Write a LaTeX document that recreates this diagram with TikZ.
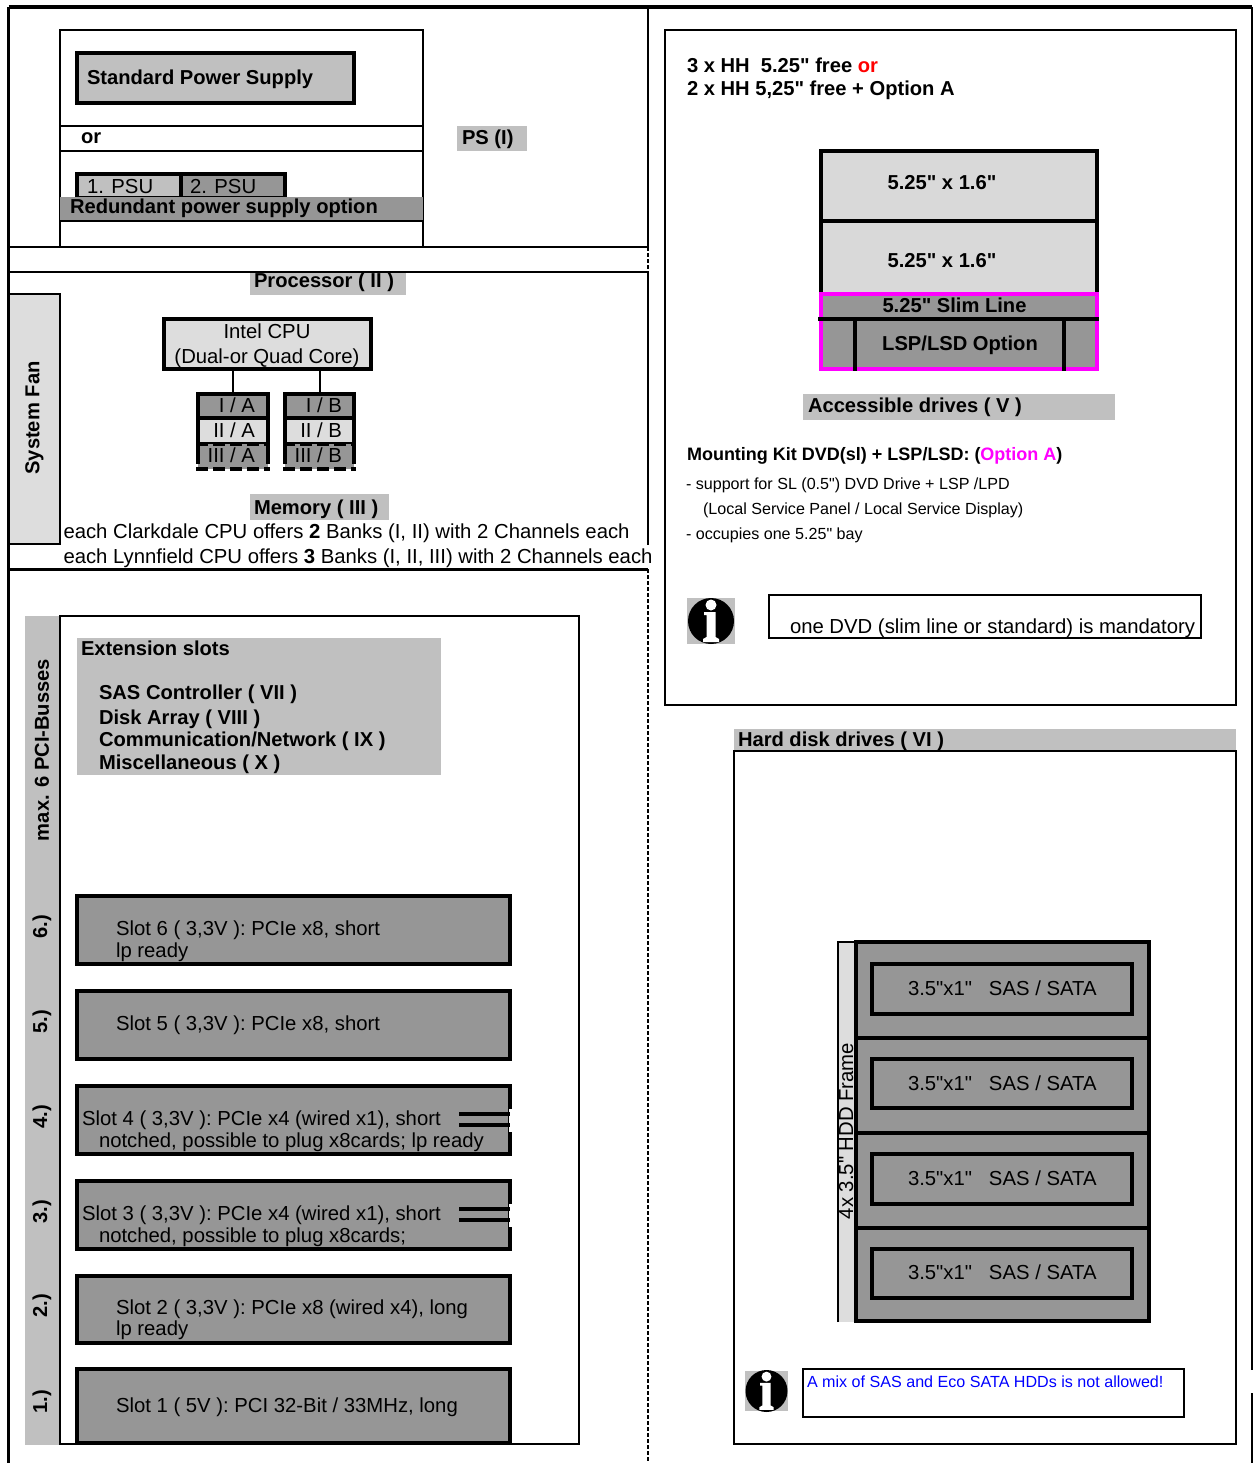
\documentclass[tikz,border=0pt]{standalone}
\usepackage{fontspec}
\setmainfont{Liberation Sans}[Ligatures=TeXOff]
\definecolor{gA}{HTML}{C0C0C0}
\definecolor{gB}{HTML}{969696}
\definecolor{gC}{HTML}{DDDDDD}
\definecolor{gD}{HTML}{D9D9D9}
\definecolor{mag}{HTML}{FF00FF}
\tikzset{
 rb/.style={rectangle,inner sep=0pt,outer sep=0pt},
 thin line/.style={draw=black,line width=2pt},
 thick line/.style={draw=black,line width=4pt},
 tx/.style={anchor=base west,inner sep=0pt,outer sep=0pt,font=\fontsize{20.3}{24}\selectfont},
 bf/.style={tx,font=\fontsize{20.15}{24}\selectfont\bfseries},
 sm/.style={tx,font=\fontsize{16.1}{20}\selectfont},
 rot/.style={anchor=center,rotate=90,inner sep=0pt,font=\fontsize{20.15}{24}\selectfont\bfseries},
 slot/.style={rb,thick line,fill=gB},
 hdd/.style={rb,thick line,fill=gB},
 band/.style={rb,fill=gA},
 bandB/.style={rb,fill=gB},
 frame/.style={draw=black,line width=3pt},
 wire/.style={draw=black,line width=2pt},
 hdash/.style={draw=black,line width=4pt,dash pattern=on 12pt off 5pt},
 vdash/.style={draw=black,line width=2pt,dash pattern=on 4pt off 2pt}
}
\newcommand{\rbox}[6]{\node[#6,minimum width={(#4-#2)*1pt},minimum height={(#5-#3)*1pt}] (#1) at ({(#2+#4)/2},{(#3+#5)/2}) {};}
\newcommand{\infoicon}[7]{%
 \node[band,minimum width={#4*1pt},minimum height={#5*1pt}] (#1bg) at (#2,#3) {};
 \node[circle,fill=black,inner sep=0pt,minimum size={#6*2pt}] (#1c) at (#2,#3) {};
 \begin{scope}[shift={(#2,#3)},x=#7pt,y=-#7pt]
  \fill[white] (0,-16) circle (5.5);
  \fill[white] (-7,-9) -- (4.5,-9) -- (4.5,16) -- (8,18) -- (8,21) -- (-8,21) -- (-8,18) -- (-4.5,16) -- (-4.5,-6) -- (-7,-6) -- cycle;
 \end{scope}}
\begin{document}
\begin{tikzpicture}[x=1pt,y=-1pt]
\useasboundingbox (0,0) rectangle (1253,1463);
% outer frame
\coordinate (tl) at (8.5,7); \coordinate (tr) at (1252,7);
\coordinate (bl) at (8.5,1463);
\draw[frame,line width=4pt] (tl) -- (tr);
\draw[frame] (tl) -- (bl);
\coordinate (r1) at (1252,7); \coordinate (r2) at (1252,1370);
\coordinate (r3) at (1252,1393); \coordinate (r4) at (1252,1463);
\draw[wire] (r1) -- (r2); \draw[wire] (r3) -- (r4);
% main divider
\coordinate (d1) at (648,7); \coordinate (d2) at (648,247); \coordinate (d3) at (648,272);
\coordinate (d4) at (648,545); \coordinate (d5) at (648,569); \coordinate (d6) at (648,1463);
\draw[wire] (d1) -- (d2); \draw[vdash] (d2) -- (d3); \draw[wire] (d3) -- (d4); \draw[vdash] (d5) -- (d6);
\coordinate (h1a) at (8,247); \coordinate (h1b) at (648,247);
\coordinate (h2a) at (8,272); \coordinate (h2b) at (648,272);
\coordinate (h3a) at (8,569); \coordinate (h3b) at (648,569);
\draw[frame,line width=2.4pt] (h1a) -- (h1b);
\draw[frame,line width=2.4pt] (h2a) -- (h2b);
\draw[frame] (h3a) -- (h3b);
% power supply
\coordinate (pa) at (60,30); \coordinate (pb) at (423,30); \coordinate (pc) at (60,248); \coordinate (pd) at (423,248);
\draw[wire] (pc) -- (pa) -- (pb) -- (pd);
\coordinate (p1a) at (60,126); \coordinate (p1b) at (423,126); \coordinate (p2a) at (60,151); \coordinate (p2b) at (423,151);
\draw[wire] (p1a) -- (p1b); \draw[wire] (p2a) -- (p2b);
\rbox{std}{77}{53}{354}{103}{rb,thick line,fill=gA}
\node[bf] (stdt) at (87,85) {Standard Power Supply};
\node[bf] (ort) at (81,144) {or};
\rbox{psua}{77}{174}{181}{198}{rb,thick line,fill=gA}
\rbox{psub}{181}{174}{285}{198}{rb,thick line,fill=gB}
\node[tx] (psuat) at (87,194) {1. PSU};
\node[tx] (psubt) at (190,194) {2. PSU};
\rbox{red}{60}{197}{423}{221}{bandB}
\coordinate (ra) at (60,221); \coordinate (rb) at (423,221);
\draw[wire] (ra) -- (rb);
\node[bf] (redt) at (70,214) {Redundant power supply option};
\rbox{psl}{457}{126}{527}{151}{band}
\node[bf] (pst) at (462,144.5) {PS (I)};
% processor
\rbox{proc}{250}{273}{406}{295}{band}
\node[bf] (proct) at (254,287) {Processor ( II )};
\rbox{fan}{8.5}{294}{60}{544}{rb,thin line,fill=gC}
\node[rot] (fant) at (34.5,418) {System Fan};
\rbox{cpu}{164}{319}{371}{369}{rb,thick line,fill=gC}
\node[tx,anchor=base] (cput1) at (267,338) {Intel CPU};
\node[tx,anchor=base] (cput2) at (267,363) {(Dual-or Quad Core)};
% DIMMs
\rbox{aI}{198}{394}{268}{418}{rb,thick line,fill=gB}
\rbox{bI}{285}{394}{354}{418}{rb,thick line,fill=gB}
\rbox{aII}{198}{418}{268}{444}{rb,thick line,fill=gC}
\rbox{bII}{285}{418}{354}{444}{rb,thick line,fill=gC}
\rbox{aIII}{198}{444}{268}{469}{rb,fill=gB}
\rbox{bIII}{285}{444}{354}{469}{rb,fill=gB}
\foreach \n in {aIII,bIII}{
 \draw[thick line] (\n.north west) -- ([yshift=5pt]\n.south west);
 \draw[thick line] (\n.north east) -- ([yshift=5pt]\n.south east);
 \draw[hdash] ([xshift=-2pt]\n.north west) -- ([xshift=2pt]\n.north east);
 \draw[hdash] ([xshift=-2pt]\n.south west) -- ([xshift=2pt]\n.south east);
}
\draw[wire] (cpu.south -| aI.north) -- (aI.north);
\draw[wire] (cpu.south -| bI.north) -- (bI.north);
\foreach \nm/\xx/\yy/\tt in {ta1/255/412/{I / A},ta2/255/437/{II / A},ta3/255/462/{III / A},tb1/342/412/{I / B},tb2/342/437/{II / B},tb3/342/462/{III / B}}{
 \node[tx,anchor=base east] (\nm) at (\xx,\yy) {\tt};
}
\rbox{mem}{250}{494}{389}{520}{band}
\node[bf] (memt) at (254,514) {Memory ( III )};
\node[tx] (cl) at (63.5,538) {each Clarkdale CPU offers \textbf{2} Banks (I, II) with 2 Channels each};
\node[tx] (ly) at (63.5,563) {each Lynnfield CPU offers \textbf{3} Banks (I, II, III) with 2 Channels each};
% extension
\rbox{strip}{25}{616}{60}{1445}{band}
\rbox{ext}{60}{616}{579}{1444}{rb,thin line}
\node[rot] (max) at (42,750) {max. 6 PCI-Busses};
\foreach \nm/\yy/\tt in {n6/927/6.),n5/1022/5.),n4/1117/4.),n3/1212/3.),n2/1306/2.),n1/1402/1.)}{
 \node[rot] (\nm) at (42,\yy) {\tt};
}
\rbox{extb}{77}{638}{441}{775}{band}
\node[bf] (e1) at (81,655) {Extension slots};
\node[bf] (e2) at (99,699) {SAS Controller ( VII )};
\node[bf] (e3) at (99,724) {Disk Array ( VIII )};
\node[bf] (e4) at (99,746) {Communication/Network ( IX )};
\node[bf] (e5) at (99,769) {Miscellaneous ( X )};
\rbox{s6}{77}{896}{510}{964}{slot}
\rbox{s5}{77}{991}{510}{1059}{slot}
\rbox{s4}{77}{1086}{510}{1154}{slot}
\rbox{s3}{77}{1181}{510}{1249}{slot}
\rbox{s2}{77}{1276}{510}{1343}{slot}
\rbox{s1}{77}{1369}{510}{1443}{slot}
\fill[white] (509,1109) rectangle (512.5,1132);
\fill[white] (509,1204) rectangle (512.5,1227);
\coordinate (c4a) at (459,1114); \coordinate (c4b) at (510,1114); \coordinate (c4c) at (459,1125); \coordinate (c4d) at (510,1125);
\coordinate (c3a) at (459,1209); \coordinate (c3b) at (510,1209); \coordinate (c3c) at (459,1220); \coordinate (c3d) at (510,1220);
\draw[frame,line width=3.5pt] (c4a) -- (c4b); \draw[frame,line width=3.5pt] (c4c) -- (c4d);
\draw[frame,line width=3.5pt] (c3a) -- (c3b); \draw[frame,line width=3.5pt] (c3c) -- (c3d);
\node[tx] (t6a) at (116,935) {Slot 6 ( 3,3V ): PCIe x8, short};
\node[tx] (t6b) at (116,957) {lp ready};
\node[tx] (t5a) at (116,1030) {Slot 5 ( 3,3V ): PCIe x8, short};
\node[tx] (t4a) at (82,1125) {Slot 4 ( 3,3V ): PCIe x4 (wired x1), short};
\node[tx] (t4b) at (99,1147) {notched, possible to plug x8cards; lp ready};
\node[tx] (t3a) at (82,1220) {Slot 3 ( 3,3V ): PCIe x4 (wired x1), short};
\node[tx] (t3b) at (99,1242) {notched, possible to plug x8cards;};
\node[tx] (t2a) at (116,1314) {Slot 2 ( 3,3V ): PCIe x8 (wired x4), long};
\node[tx] (t2b) at (116,1335) {lp ready};
\node[tx] (t1a) at (116,1412) {Slot 1 ( 5V ): PCI 32-Bit / 33MHz, long};
% accessible drives
\rbox{acc}{665}{30}{1236}{705}{rb,thin line}
\node[bf] (a1) at (687,73) {3 x HH\ \ 5.25" free \textcolor{red}{or}};
\node[bf] (a2) at (687,96) {2 x HH 5,25" free + Option A};
\rbox{dr1}{821}{151}{1097}{221}{rb,thick line,fill=gD}
\rbox{dr2}{821}{221}{1097}{294}{rb,thick line,fill=gD}
\rbox{slim}{821}{294}{1097}{369}{rb,fill=gB,draw=mag,line width=4pt}
\coordinate (sa) at (818,319); \coordinate (sb) at (1099,319);
\draw[thick line] (sa) -- (sb);
\coordinate (la) at (855,319); \coordinate (lb) at (855,371); \coordinate (lc) at (1063.5,319); \coordinate (ld) at (1063.5,371);
\draw[thick line] (la) -- (lb); \draw[thick line] (lc) -- (ld);
\node[bf,anchor=base] (dt1) at (942,190) {5.25" x 1.6"};
\node[bf,anchor=base] (dt2) at (942,267) {5.25" x 1.6"};
\node[bf,anchor=base] (dt3) at (954.5,312) {5.25" Slim Line};
\node[bf,anchor=base] (dt4) at (960,350) {LSP/LSD Option};
\rbox{accl}{803}{394}{1115}{420}{band}
\node[bf] (acct) at (808,412) {Accessible drives ( V )};
\node[tx,font=\fontsize{18}{22}\selectfont\bfseries] (mk) at (687,460) {Mounting Kit DVD(sl) + LSP/LSD: (\textcolor{mag}{Option A})};
\node[sm] (m1) at (686,489) {- support for SL (0.5") DVD Drive + LSP /LPD};
\node[sm] (m2) at (703,514) {(Local Service Panel / Local Service Display)};
\node[sm] (m3) at (686,539) {- occupies one 5.25" bay};
\infoicon{ia}{711}{621}{48}{46}{23}{1}
\rbox{note}{769}{595}{1201}{638}{rb,thin line}
\node[tx] (nt) at (790,633) {one DVD (slim line or standard) is mandatory};
% hard disks
\rbox{hdl}{734}{729}{1236}{751}{band}
\rbox{hd}{734}{751}{1236}{1444}{rb,thin line}
\node[bf] (hdt) at (738,746) {Hard disk drives ( VI )};
\rbox{fr}{838}{942}{855}{1322}{rb,fill=gC}
\draw[wire] (fr.south west) -- (fr.north west) -- (fr.north east);
\node[rot,font=\fontsize{20.3}{24}\selectfont] (frt) at (846,1131) {4x 3.5" HDD Frame};
\rbox{h1}{855.5}{942}{1149}{1038}{hdd}
\rbox{h2}{855.5}{1038}{1149}{1133}{hdd}
\rbox{h3}{855.5}{1133}{1149}{1228}{hdd}
\rbox{h4}{855.5}{1228}{1149}{1321}{hdd}
\rbox{i1}{872}{964}{1132}{1014}{rb,thick line}
\rbox{i2}{872}{1059}{1132}{1108}{rb,thick line}
\rbox{i3}{872}{1154}{1132}{1204}{rb,thick line}
\rbox{i4}{872}{1249}{1132}{1298}{rb,thick line}
\foreach \nm/\yy in {q1/995,q2/1090,q3/1185,q4/1279}{
 \node[tx] (\nm) at (908,\yy) {3.5"x1"\ \ \ SAS / SATA};
}
\infoicon{ib}{766.5}{1391}{43}{40}{21}{0.9}
\rbox{note2}{803}{1369}{1184}{1417}{rb,thin line}
\node[sm,text=blue] (nt2) at (807,1387) {A mix of SAS and Eco SATA HDDs is not allowed!};
\end{tikzpicture}
\end{document}
